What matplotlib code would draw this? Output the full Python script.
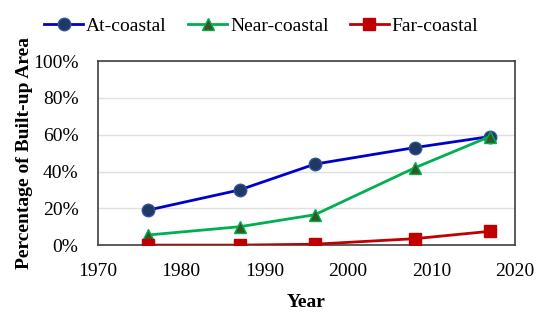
import matplotlib.pyplot as plt
from matplotlib.ticker import PercentFormatter

years = [1976, 1987, 1996, 2008, 2017]
at_coastal = [19, 30, 44, 53, 59]
near_coastal = [5.5, 10, 16.5, 42, 59]
far_coastal = [0, 0, 0.5, 3.5, 7.5]

plt.rcParams['font.family'] = ['Liberation Serif', 'DejaVu Serif']

fig = plt.figure(figsize=(5.5, 3.2), dpi=100)
ax = fig.add_axes([0.178, 0.234, 0.758, 0.575])

ax.plot(years, at_coastal, color="#0000CC", lw=2, marker="o", ms=9,
        mfc="#1F3864", mec="#2F5597", mew=1, label="At-coastal", zorder=3)
ax.plot(years, near_coastal, color="#00B050", lw=2, marker="^", ms=9,
        mfc="#375623", mec="#00B050", mew=1, label="Near-coastal", zorder=3)
ax.plot(years, far_coastal, color="#C00000", lw=2, marker="s", ms=9,
        mfc="#C00000", mec="#C00000", label="Far-coastal", zorder=3)

ax.set_xlim(1970, 2020)
ax.set_ylim(0, 100)
ax.set_yticks([0, 20, 40, 60, 80, 100])
ax.yaxis.set_major_formatter(PercentFormatter(decimals=0))
ax.grid(axis="y", color="#E0E0E0", lw=1)
ax.set_axisbelow(True)
ax.tick_params(axis="y", length=0, labelsize=14, pad=14)
ax.tick_params(axis="x", length=0, labelsize=14, pad=13)
for s in ax.spines.values():
    s.set_color("#404040")
    s.set_linewidth(1.2)

ax.set_xlabel("Year", fontsize=14, fontweight="bold", labelpad=10)
ax.set_ylabel("Percentage of Built-up Area", fontsize=14, fontweight="bold",
              labelpad=0)

fig.legend(loc="upper center", bbox_to_anchor=(0.475, 1.0), ncol=3,
           frameon=False, fontsize=14, handlelength=2.0, columnspacing=1.1,
           handletextpad=0.15)

fig.savefig("out.png", dpi=100)
